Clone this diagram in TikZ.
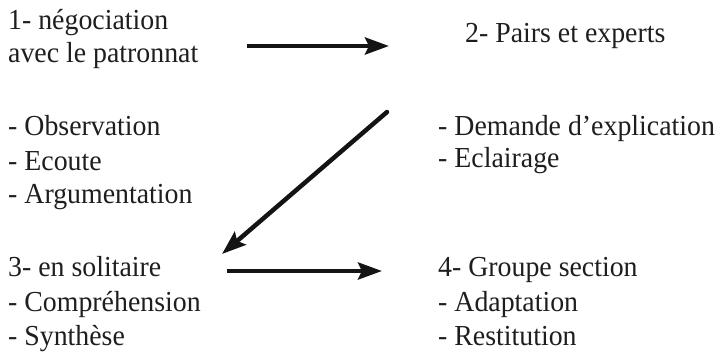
\documentclass[tikz,border=0pt]{standalone}
\usepackage{fontspec}
\setmainfont[FakeStretch=0.96]{Liberation Serif}
\usetikzlibrary{arrows.meta}
\definecolor{txt}{HTML}{1E1E1E}
\definecolor{arr}{HTML}{141414}
\tikzset{
  lbl/.style={anchor=base west, inner sep=0pt, text=txt, font=\fontsize{29}{34}\selectfont},
  conn/.style={draw=arr, line width=4.5pt, -{Stealth[length=24pt,width=17pt,inset=4pt]}}
}
\begin{document}
\begin{tikzpicture}[x=1pt,y=-1pt]
\useasboundingbox (0,0) rectangle (722,353);
% block 1
\node[lbl] (b1a) at (8,30) {1- négociation};
\node[lbl] (b1b) at (8,63) {avec le patronnat};
\node[lbl] (o1) at (8,135) {- Observation};
\node[lbl] (o2) at (8,170) {- Ecoute};
\node[lbl] (o3) at (8,203) {- Argumentation};
% block 2
\node[lbl] (b2) at (465,42) {2- Pairs et experts};
\node[lbl] (d1) at (438,135) {- Demande d’explication};
\node[lbl] (d2) at (438,167) {- Eclairage};
% block 3
\node[lbl] (b3) at (8,276) {3- en solitaire};
\node[lbl] (c1) at (8,311) {- Compréhension};
\node[lbl] (c2) at (8,345) {- Synthèse};
% block 4
\node[lbl] (b4) at (438,276) {4- Groupe section};
\node[lbl] (g1) at (438,311) {- Adaptation};
\node[lbl] (g2) at (438,345) {- Restitution};
% arrow end points
\coordinate (a1s) at (247,46);
\coordinate (a1e) at (389,46);
\coordinate (a2s) at (387,112);
\coordinate (a2e) at (222,254);
\coordinate (a3s) at (227,271);
\coordinate (a3e) at (382,271);
\draw[conn] (a1s) -- (a1e);
\draw[conn, line cap=round] (a2s) -- (a2e);
\draw[conn] (a3s) -- (a3e);
\end{tikzpicture}
\end{document}
